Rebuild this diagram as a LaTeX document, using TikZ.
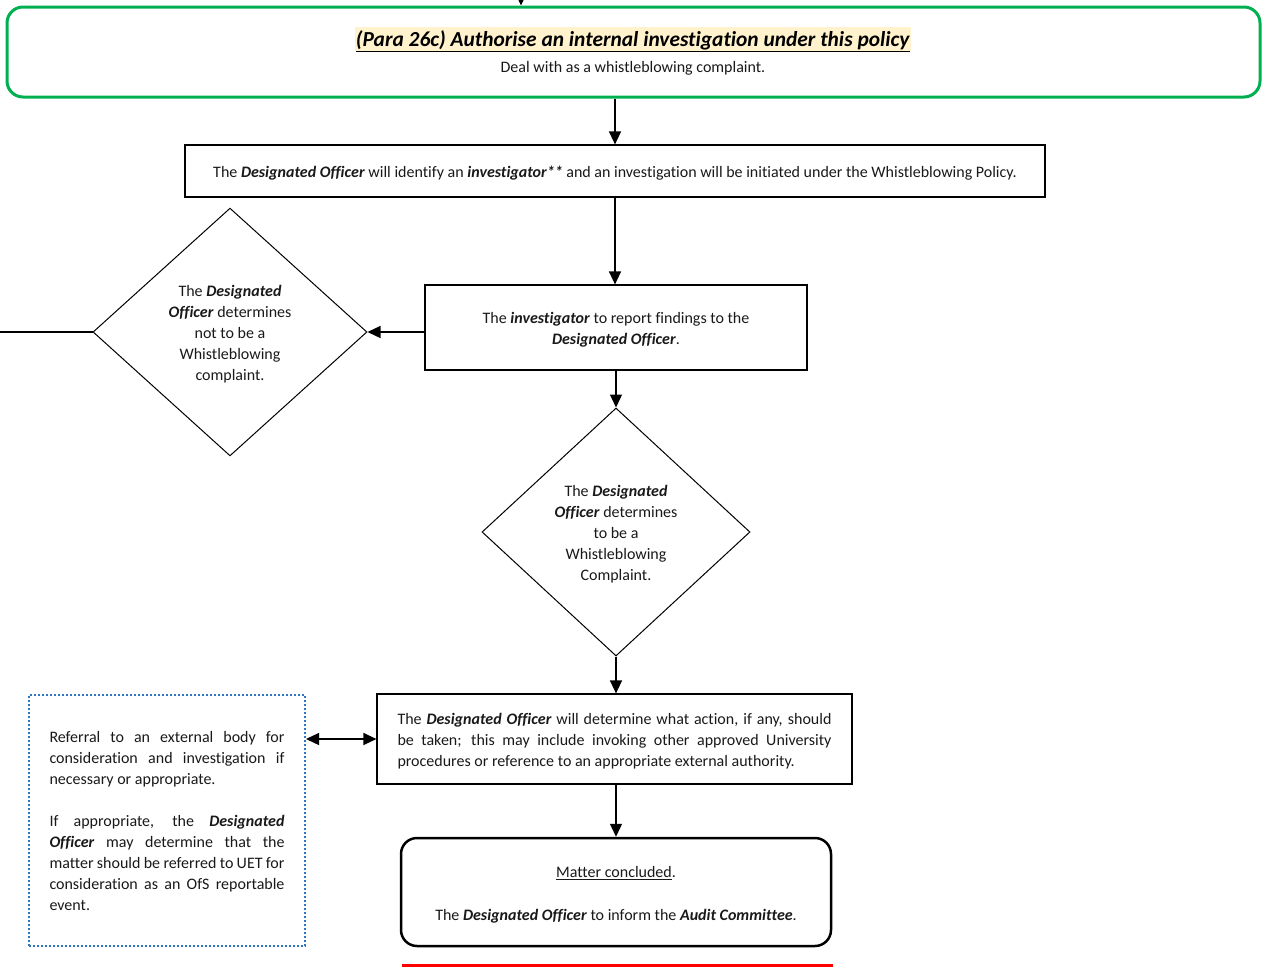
\documentclass[tikz,border=0pt]{standalone}
\usepackage{fontspec}
\setmainfont[Ligatures=NoCommon]{Carlito}
\usetikzlibrary{shapes.geometric,arrows.meta}
\definecolor{ggreen}{HTML}{00B050}
\definecolor{dblue}{HTML}{2E75C6}
\definecolor{hl}{HTML}{FFF2CC}
\newcommand{\bi}[1]{\textbf{\textit{#1}}}
\newcommand{\shiftdown}[1]{\raisebox{-2.5pt}[\height][\depth]{#1}}
\newcommand{\ctext}[2]{\shiftdown{\parbox{#1}{\centering #2}}}
\newcommand{\jtext}[2]{\shiftdown{\parbox{#1}{#2}}}
\tikzset{
  txt/.style={font=\fontsize{16}{21}\selectfont, text=black!90},
  rectbox/.style={draw, line width=1.2pt, inner sep=0pt, txt},
  dia/.style={draw, diamond, line width=1pt, inner sep=0pt, txt},
  arr/.style={-{Triangle[length=13pt,width=12pt]}, line width=1.3pt},
  darr/.style={{Triangle[length=13pt,width=12pt]}-{Triangle[length=13pt,width=12pt]}, line width=1.3pt},
}
\begin{document}
\begin{tikzpicture}[x=1pt,y=-1pt]
\useasboundingbox (0,0) rectangle (1262,967);
% green box
\node[draw=ggreen, line width=3pt, rounded corners=16pt, minimum width=1253pt, minimum height=90pt, inner sep=0pt] (green) at (633.5,52) {};
\node[fill=hl, inner sep=0pt, minimum width=556pt, minimum height=24pt, font=\fontsize{21.4}{24}\selectfont] (title) at (633,38.5) {\shiftdown{\underline{\bi{(Para 26c) Authorise an internal investigation under this policy}}}};
\node[txt] (deal) at (633,68) {Deal with as a whistleblowing complaint.};
\coordinate (topin) at (521,-6);
\draw[arr] (topin) -- (topin |- green.north);
% box1
\node[rectbox, minimum width=860pt, minimum height=52pt] (b1) at (615,171) {\shiftdown{The \bi{Designated Officer} will identify an \bi{investigator**} and an investigation will be initiated under the Whistleblowing Policy.}};
\draw[arr] (b1.north |- green.south) -- (b1.north);
% box2
\node[rectbox, minimum width=382pt, minimum height=85pt] (b2) at (616,327.5) {\ctext{370pt}{The \bi{investigator} to report findings to the\\\bi{Designated Officer}.}};
\draw[arr] (b1.south) -- (b1.south |- b2.north);
% diamond 1
\node[dia, minimum width=274pt, minimum height=246pt] (d1) at (230,332) {\ctext{150pt}{The \bi{Designated}\\\bi{Officer} determines\\not to be a\\Whistleblowing\\complaint.}};
\draw[arr] (d1.east -| b2.west) -- (d1.east);
\coordinate (leftout) at (0,332);
\draw[line width=1.2pt] (d1.west) -- (leftout);
% diamond 2
\node[dia, minimum width=268pt, minimum height=248pt] (d2) at (616,532) {\ctext{150pt}{The \bi{Designated}\\\bi{Officer} determines\\to be a\\Whistleblowing\\Complaint.}};
\draw[arr] (b2.south) -- (d2.north);
% box3
\node[rectbox, minimum width=475pt, minimum height=90pt] (b3) at (614.5,739) {\jtext{434pt}{The \bi{Designated Officer} will determine what action, if any, should\linebreak be taken; this may include invoking other approved University\linebreak procedures or reference to an appropriate external authority.}};
\draw[arr] (d2.south) -- (d2.south |- b3.north);
% dotted box
\node[draw=dblue, line width=2pt, dash pattern=on 2pt off 2pt, minimum width=276pt, minimum height=251pt, inner sep=0pt, txt] (ext) at (167,820.5) {\parbox{235pt}{Referral to an external body for\linebreak consideration and investigation if\linebreak necessary or appropriate.\par\vspace{21pt}If appropriate, the \bi{Designated}\linebreak \bi{Officer} may determine that the\linebreak matter should be referred to UET for\linebreak consideration as an OfS reportable\linebreak event.}};
\draw[darr] (b3.west -| ext.east) -- (b3.west);
% rounded final box
\node[draw, line width=2.5pt, rounded corners=16pt, minimum width=430pt, minimum height=108pt, inner sep=0pt, txt] (fin) at (616,892) {\ctext{420pt}{\underline{Matter concluded}.\\[22pt]The \bi{Designated Officer} to inform the \bi{Audit Committee}.}};
\draw[arr] (b3.south -| d2.south) -- (fin.north);
% red line
\draw[red, line width=3pt] (402,965) -- (833,965);
\end{tikzpicture}
\end{document}
